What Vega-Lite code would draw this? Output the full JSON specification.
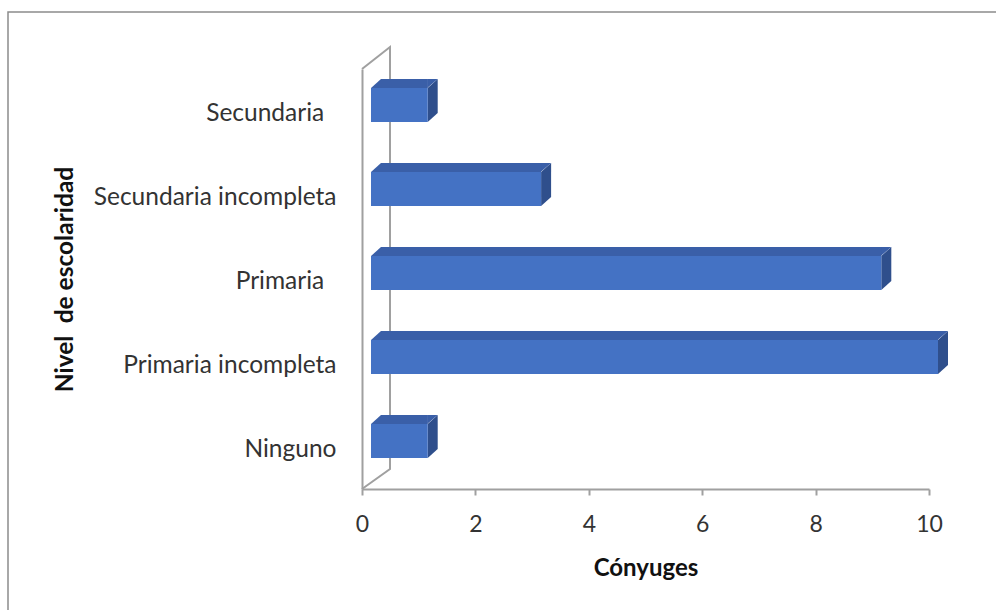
{
  "$schema": "https://vega.github.io/schema/vega-lite/v6.json",
  "autosize": "none",
  "padding": {"left": 8, "top": 12, "right": 0, "bottom": 0},
  "width": 996,
  "height": 610,
  "background": "white",
  "config": {
    "view": {"stroke": "#8c8c8c", "strokeWidth": 1.5},
    "font": "Lato"
  },
  "data": {
    "values": [
      {"nivel": "Secundaria\u2002\u200b", "conyuges": 1},
      {"nivel": "Secundaria incompleta", "conyuges": 3},
      {"nivel": "Primaria\u2002\u200b", "conyuges": 9},
      {"nivel": "Primaria incompleta", "conyuges": 10},
      {"nivel": "Ninguno", "conyuges": 1}
    ]
  },
  "encoding": {
    "y": {
      "field": "nivel",
      "type": "nominal",
      "sort": null,
      "scale": {
        "domain": ["Secundaria\u2002\u200b", "Secundaria incompleta", "Primaria\u2002\u200b", "Primaria incompleta", "Ninguno"],
        "range": [57, 477],
        "paddingInner": 0,
        "paddingOuter": 0
      },
      "axis": {
        "title": "Nivel\u2002de escolaridad",
        "orient": "left",
        "offset": -354,
        "domainColor": "#a0a0a0",
        "domainWidth": 2,
        "ticks": false,
        "labelPadding": 26,
        "labelOffset": 3,
        "labelLimit": 400,
        "labelFont": "Lato",
        "labelFontSize": 24.5,
        "labelColor": "#333333",
        "titleFont": "Lato",
        "titleFontSize": 24.5,
        "titleFontWeight": "bold",
        "titleColor": "#111111",
        "titleX": -297,
        "titleY": 267,
        "titleAngle": -90,
        "titleAlign": "center",
        "titleBaseline": "middle"
      }
    }
  },
  "layer": [
    {
      "data": {"values": [{"nivel": "Primaria\u2002\u200b"}]},
      "mark": {"type": "point", "shape": "M0,-210L28,-232L28,190L0,210", "size": 4, "filled": false, "stroke": "#a0a0a0", "strokeWidth": 2, "opacity": 1},
      "encoding": {
        "x": {"datum": 0, "type": "quantitative"}
      }
    },
    {
      "mark": {"type": "point", "shape": "M9,-23L19,-32L19,2L9,11Z", "size": 4, "filled": true, "fill": "#2f4f8c", "strokeWidth": 0, "opacity": 1},
      "encoding": {
        "x": {"field": "conyuges", "type": "quantitative"}
      }
    },
    {
      "mark": {"type": "point", "shape": "M8.5,-23L8.5,-32L19,-32Z", "size": 4, "filled": true, "fill": "#3a5fa8", "strokeWidth": 0, "opacity": 1},
      "encoding": {
        "x": {"field": "conyuges", "type": "quantitative"}
      }
    },
    {
      "mark": {"type": "point", "shape": "M9,-23L19,-32L20,-32L20,-23Z", "size": 4, "filled": true, "fill": "#3a5fa8", "strokeWidth": 0, "opacity": 1},
      "encoding": {
        "x": {"datum": 0, "type": "quantitative"}
      }
    },
    {
      "mark": {"type": "bar", "color": "#3a5fa8", "size": 9, "yOffset": -27.5, "xOffset": 9, "x2Offset": 19},
      "encoding": {
        "x": {"field": "conyuges", "type": "quantitative"},
        "x2": {"datum": 0}
      }
    },
    {
      "mark": {"type": "bar", "color": "#4472c4", "size": 34, "yOffset": -6, "xOffset": 9, "x2Offset": 9},
      "encoding": {
        "x": {
          "field": "conyuges",
          "type": "quantitative",
          "scale": {"domain": [0, 10], "range": [354, 921], "nice": false, "zero": true},
          "axis": {
            "title": "Cónyuges",
            "orient": "bottom",
            "offset": -133,
            "values": [0, 2, 4, 6, 8, 10],
            "format": "d",
            "grid": false,
            "labelFlush": false,
            "domainColor": "#a0a0a0",
            "domainWidth": 2,
            "tickColor": "#a0a0a0",
            "tickWidth": 2,
            "tickSize": 6,
            "labelPadding": 18,
            "labelFont": "Lato",
            "labelFontSize": 23,
            "labelColor": "#333333",
            "titleFont": "Lato",
            "titleFontSize": 24,
            "titleFontWeight": "bold",
            "titleColor": "#111111",
            "titlePadding": 20
          }
        },
        "x2": {"datum": 0}
      }
    }
  ]
}
